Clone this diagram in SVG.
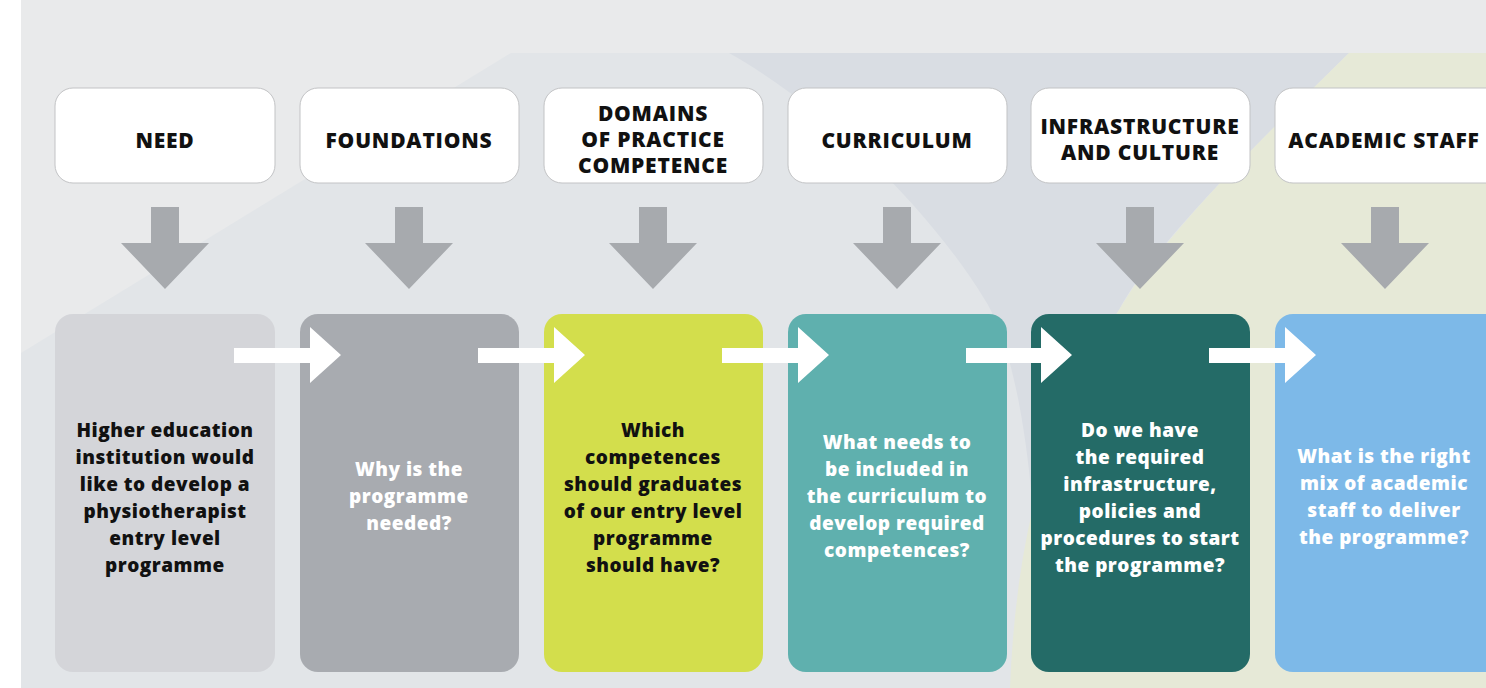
<svg xmlns="http://www.w3.org/2000/svg" width="1486" height="688" viewBox="0 0 1486 688">
  <defs>
    <style>
      .hdr { fill: #ffffff; stroke: #c2c3c5; stroke-width: 1; }
      .ht { font-family: "Open Sans", "Liberation Sans", sans-serif; font-weight: 800; font-size: 21px; fill: #111111; text-anchor: middle; letter-spacing: 0.8px; }
      .bt { font-family: "Open Sans", "Liberation Sans", sans-serif; font-weight: 800; font-size: 19px; text-anchor: middle; letter-spacing: 0.5px; }
      .dark { fill: #111111; }
      .light { fill: #ffffff; }
      .down { fill: #a7aaae; }
      .right { fill: #ffffff; }
    </style>
  </defs>

  <!-- background -->
  <rect x="0" y="0" width="1486" height="688" fill="#ffffff"/>
  <rect x="21" y="0" width="1465" height="688" fill="#e9eaeb"/>
  <path d="M511,53 L1486,53 L1486,688 L21,688 L21,353 Z" fill="#e2e5e8"/>
  <path d="M729,53 L1349,53 C1250,150 1150,250 1119,310 C1080,380 1050,440 1032,500 C1025,420 1010,340 985,300 C930,210 830,110 729,53 Z" fill="#d9dde3"/>
  <path d="M1349,53 L1486,53 L1486,688 L1010,688 C1015,560 1040,420 1119,310 C1160,240 1250,150 1349,53 Z" fill="#e6e9d7"/>

  <!-- connectors -->
  <g id="connectors">
    <polygon class="down" points="151,207 179,207 179,243 209,243 165,289 121,243 151,243 151,207"/>
    <polygon class="down" points="395,207 423,207 423,243 453,243 409,289 365,243 395,243 395,207"/>
    <polygon class="down" points="639,207 667,207 667,243 697,243 653,289 609,243 639,243 639,207"/>
    <polygon class="down" points="883,207 911,207 911,243 941,243 897,289 853,243 883,243 883,207"/>
    <polygon class="down" points="1126,207 1154,207 1154,243 1184,243 1140,289 1096,243 1126,243 1126,207"/>
    <polygon class="down" points="1371,207 1399,207 1399,243 1429,243 1385,289 1341,243 1371,243 1371,207"/>
  </g>

  <!-- header nodes -->
  <g id="h-need"><rect class="hdr" x="55" y="88" width="220" height="95" rx="18"/><text class="ht" x="165" y="148">NEED</text></g>
  <g id="h-foundations"><rect class="hdr" x="300" y="88" width="219" height="95" rx="18"/><text class="ht" x="409" y="148">FOUNDATIONS</text></g>
  <g id="h-domains"><rect class="hdr" x="544" y="88" width="219" height="95" rx="18"/>
    <text class="ht" x="653" y="121">DOMAINS</text>
    <text class="ht" x="653" y="147">OF PRACTICE</text>
    <text class="ht" x="653" y="173">COMPETENCE</text></g>
  <g id="h-curriculum"><rect class="hdr" x="788" y="88" width="219" height="95" rx="18"/><text class="ht" x="897" y="148">CURRICULUM</text></g>
  <g id="h-infrastructure"><rect class="hdr" x="1031" y="88" width="219" height="95" rx="18"/>
    <text class="ht" x="1140" y="134">INFRASTRUCTURE</text>
    <text class="ht" x="1140" y="160">AND CULTURE</text></g>
  <g id="h-staff"><rect class="hdr" x="1275" y="88" width="230" height="95" rx="18"/><text class="ht" x="1384" y="148">ACADEMIC STAFF</text></g>

  <!-- bottom nodes -->
  <g id="c-need"><rect x="55" y="314" width="220" height="358" rx="18" fill="#d4d5d9"/>
    <text class="bt dark" x="165" y="437">Higher education</text>
    <text class="bt dark" x="165" y="464">institution would</text>
    <text class="bt dark" x="165" y="491">like to develop a</text>
    <text class="bt dark" x="165" y="518">physiotherapist</text>
    <text class="bt dark" x="165" y="545">entry level</text>
    <text class="bt dark" x="165" y="572">programme</text></g>
  <g id="c-foundations"><rect x="300" y="314" width="219" height="358" rx="18" fill="#a8abb0"/>
    <text class="bt light" x="409" y="476">Why is the</text>
    <text class="bt light" x="409" y="503">programme</text>
    <text class="bt light" x="409" y="530">needed?</text></g>
  <g id="c-domains"><rect x="544" y="314" width="219" height="358" rx="18" fill="#d3de4c"/>
    <text class="bt dark" x="653" y="437">Which</text>
    <text class="bt dark" x="653" y="464">competences</text>
    <text class="bt dark" x="653" y="491">should graduates</text>
    <text class="bt dark" x="653" y="518">of our entry level</text>
    <text class="bt dark" x="653" y="545">programme</text>
    <text class="bt dark" x="653" y="572">should have?</text></g>
  <g id="c-curriculum"><rect x="788" y="314" width="219" height="358" rx="18" fill="#5fb0ae"/>
    <text class="bt light" x="897" y="449">What needs to</text>
    <text class="bt light" x="897" y="476">be included in</text>
    <text class="bt light" x="897" y="503">the curriculum to</text>
    <text class="bt light" x="897" y="530">develop required</text>
    <text class="bt light" x="897" y="557">competences?</text></g>
  <g id="c-infrastructure"><rect x="1031" y="314" width="219" height="358" rx="18" fill="#246b67"/>
    <text class="bt light" x="1140" y="437">Do we have</text>
    <text class="bt light" x="1140" y="464">the required</text>
    <text class="bt light" x="1140" y="491">infrastructure,</text>
    <text class="bt light" x="1140" y="518">policies and</text>
    <text class="bt light" x="1140" y="545">procedures to start</text>
    <text class="bt light" x="1140" y="572">the programme?</text></g>
  <g id="c-staff"><rect x="1275" y="314" width="230" height="358" rx="18" fill="#7db9e8"/>
    <text class="bt light" x="1384" y="463">What is the right</text>
    <text class="bt light" x="1384" y="490">mix of academic</text>
    <text class="bt light" x="1384" y="517">staff to deliver</text>
    <text class="bt light" x="1384" y="544">the programme?</text></g>

  <!-- horizontal arrows -->
  <g id="flow-arrows">
    <polygon class="right" points="234,348 310,348 310,327 341,355 310,383 310,363 234,363"/>
    <polygon class="right" points="478,348 554,348 554,327 585,355 554,383 554,363 478,363"/>
    <polygon class="right" points="722,348 798,348 798,327 829,355 798,383 798,363 722,363"/>
    <polygon class="right" points="966,348 1041,348 1041,327 1072,355 1041,383 1041,363 966,363"/>
    <polygon class="right" points="1209,348 1285,348 1285,327 1316,355 1285,383 1285,363 1209,363"/>
  </g>
</svg>
